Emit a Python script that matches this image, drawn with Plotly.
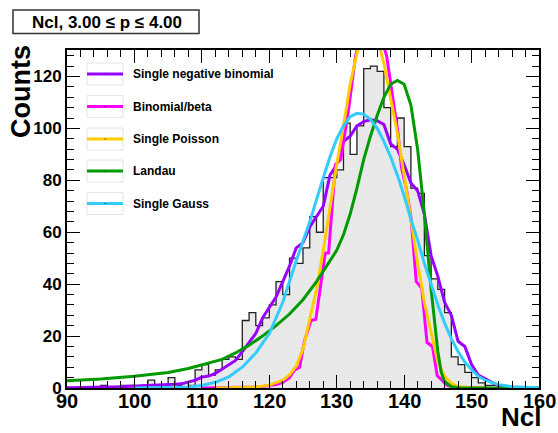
import plotly.graph_objects as go

# ---------------- data ----------------
bin_low = list(range(90, 160))          # lower edges of 1-unit bins
counts = [0, 0, 0, 0, 0, 1, 0, 0, 1, 1,
          0, 1, 3, 1, 1, 4, 1, 2, 1, 7,
          9, 5, 7, 11, 12, 11, 26, 29, 24, 27,
          32, 41, 36, 50, 48, 54, 66, 60, 81, 81,
          84, 102, 90, 101, 123, 124, 122, 108, 93, 104,
          93, 77, 75, 51, 42, 38, 29, 12, 9, 6,
          4, 2, 1, 1, 0, 0, 0, 0, 0, 0]

nb_x = list(range(90, 161))
nb_y = [0.1, 0.1, 0.15, 0.2, 0.25, 0.3, 0.35, 0.4, 0.5, 0.55,
        0.6, 0.7, 0.8, 0.9, 1.0, 1.2, 1.4, 1.6, 2.2, 3.0,
        4.2, 4.6, 5.6, 7.2, 8.7, 10.6, 14, 17.5, 21, 27,
        31, 35, 41, 47, 54, 56, 62, 66, 70, 82,
        86, 95, 97, 101, 102.6, 103.3, 103, 101.5, 94, 92,
        86, 79, 76, 67, 51, 43, 33, 28, 18, 16,
        9, 5, 3.5, 2, 0.8, 0.4, 0.2, 0.1, 0.05, 0.02, 0.01]

bb_x = [110, 112, 114, 116, 118, 119, 120, 121, 122, 123, 123.7, 124.5, 125.2, 126.2,
        126.9, 127.7, 128.3, 128.8, 129.8, 130.6, 131.3, 131.8, 132.8, 134, 135, 136,
        137.4, 138.1, 139.1, 139.6, 140.3, 141.0, 141.8, 142.6, 143.4, 144.2, 144.9,
        145.6, 146.4, 147.5, 149, 152]
bb_y = [0, 0.05, 0.1, 0.2, 0.4, 0.6, 0.9, 1.3, 2.2, 4.0, 6.8, 8.0, 18, 26,
        26.5, 42, 52, 52, 86, 88, 100, 108, 128, 140, 144, 140,
        128, 116, 98, 85, 77, 66, 41, 38.5, 17.5, 16, 4.8,
        3, 1, 0.3, 0.1, 0]

po_x = [112, 115, 118, 120, 122, 123, 124, 125, 126, 127, 128, 129, 130, 131, 132, 133,
        134, 135, 136, 137, 138, 139, 140, 141, 142, 143, 144, 145, 146, 147, 148, 149,
        150, 152]
po_y = [0, 0.1, 0.4, 1.1, 3, 5, 8.5, 15, 26, 38, 53, 70, 86, 101, 117, 129,
        137, 140, 135, 125, 112, 98, 82, 64, 48, 33, 21, 10, 4.5, 1.8, 0.6, 0.2,
        0.05, 0]

la_x = [90, 95, 100, 105, 108, 110, 113, 115, 117, 119, 121, 123, 125, 127, 129, 130,
        131, 132, 133, 134, 135, 136, 137, 138, 139, 140, 141, 142, 143, 144, 145,
        145.5, 146, 147, 148, 150, 160]
la_y = [2.8, 3.5, 4.5, 6, 7.5, 9, 11, 13.5, 16.5, 20, 24, 28.5, 34, 41, 49, 53,
        59, 67, 77, 88, 97, 105, 112, 117, 118.5, 117, 109, 92, 67, 38, 14,
        6, 2.5, 0.5, 0.1, 0, 0]

ga_x = [100, 105, 108, 110, 112, 114, 116, 118, 120, 122, 124, 126, 127, 128, 129, 130,
        131, 132, 133, 134, 135, 136, 137, 138, 139, 140, 141, 142, 143, 144, 145, 146,
        147, 148, 149, 150, 151, 152, 154, 156, 158, 160]
ga_y = [0, 0.1, 0.4, 1, 2.2, 4.3, 8, 13.5, 21, 33, 49, 64, 73, 81, 89, 96,
        101, 104.5, 105.8, 105.5, 103.5, 100, 95, 89, 82, 74, 65, 57, 48, 40, 32, 25,
        19, 14, 10, 7, 4.5, 3, 1.3, 0.5, 0.2, 0.05]

names = ["Single negative binomial", "Binomial/beta", "Single Poisson", "Landau", "Single Gauss"]
colors = ["#9900ff", "#ff00ff", "#ffcc00", "#009900", "#33ccff"]
curves_x = [nb_x, bb_x, po_x, la_x, ga_x]
curves_y = [nb_y, bb_y, po_y, la_y, ga_y]

x_ticks = [90, 100, 110, 120, 130, 140, 150, 160]
title_text = "Ncl, 3.00 \u2264 p \u2264 4.00"
x_title = "Ncl"
y_title = "Counts"

# ---------------- layout geometry ----------------
W, H = 558, 433
L, R, T, B = 67, 19, 50, 45
PW, PH = W - L - R, H - T - B


def px(x):
    return (x - L) / PW


def py(y):
    return (H - B - y) / PH


FONT = "Liberation Sans, Arial, Helvetica, sans-serif"

fig = go.Figure()

# histogram: filled step outline
hx = bin_low + [bin_low[-1] + 1]
hy = counts + [counts[-1]]
fig.add_trace(go.Scatter(
    x=hx, y=hy, mode="lines", line=dict(shape="hv", color="#222222", width=1.3),
    fill="tozeroy", fillcolor="rgba(0,0,0,0)",
    fillpattern=dict(shape=".", fgcolor="#555555", bgcolor="#f7f7f7", size=2, solidity=0.2),
    showlegend=False, hoverinfo="skip"))

for cx, cy, c, n in zip(curves_x, curves_y, colors, names):
    fig.add_trace(go.Scatter(x=cx, y=cy, mode="lines", line=dict(color=c, width=3),
                             name=n, showlegend=False))

shapes = []
annotations = []

# legend (ROOT style)
rows = [74, 106.5, 139, 171, 203.5]
for r, c, n in zip(rows, colors, names):
    shapes.append(dict(type="rect", xref="paper", yref="paper",
                       x0=px(87), x1=px(123), y0=py(r + 11), y1=py(r - 11),
                       line=dict(color="#e4e4e4", width=1), fillcolor="rgba(0,0,0,0)"))
    shapes.append(dict(type="line", xref="paper", yref="paper",
                       x0=px(87), x1=px(123), y0=py(r), y1=py(r),
                       line=dict(color=c, width=3)))
    shapes.append(dict(type="rect", xref="paper", yref="paper",
                       x0=px(104.5), x1=px(105.8), y0=py(r + 0.6), y1=py(r - 0.6),
                       line=dict(width=0), fillcolor="#333333"))
    annotations.append(dict(xref="paper", yref="paper", x=px(131), y=py(r),
                            xanchor="left", yanchor="middle", showarrow=False, text=n,
                            font=dict(family=FONT, size=12, color="black", weight="bold")))

# x tick labels (placed close to the axis, ROOT style)
for t in x_ticks:
    annotations.append(dict(xref="x", yref="paper", x=t, y=py(401),
                            xanchor="center", yanchor="middle", showarrow=False, text=str(t),
                            borderpad=0,
                            font=dict(family=FONT, size=20, color="black", weight="bold")))

# title box
shapes.append(dict(type="rect", xref="paper", yref="paper",
                   x0=px(13), x1=px(199), y0=py(33.5), y1=py(10),
                   line=dict(color="#333333", width=1.5), fillcolor="white"))
annotations.append(dict(xref="paper", yref="paper", x=px(107), y=py(22),
                        xanchor="center", yanchor="middle", showarrow=False, text=title_text,
                        font=dict(family=FONT, size=17, color="black", weight="bold")))

# axis titles
annotations.append(dict(xref="paper", yref="paper", x=px(21), y=py(92),
                        xanchor="center", yanchor="middle", showarrow=False, text=y_title,
                        textangle=-90,
                        font=dict(family=FONT, size=27, color="black", weight="bold")))
annotations.append(dict(xref="paper", yref="paper", x=px(542), y=py(433),
                        xanchor="right", yanchor="bottom", showarrow=False, text=x_title,
                        borderpad=0,
                        font=dict(family=FONT, size=26, color="black", weight="bold")))

axis_common = dict(
    showgrid=False, zeroline=False, showline=True, linecolor="black", linewidth=2,
    mirror="allticks", ticks="inside", ticklen=13, tickwidth=1.3, tickcolor="black",
)

fig.update_layout(
    width=W, height=H,
    margin=dict(l=L, r=R, t=T, b=B, pad=0),
    paper_bgcolor="white", plot_bgcolor="white",
    showlegend=False,
    shapes=shapes, annotations=annotations,
    xaxis=dict(range=[90, 160], tick0=90, dtick=10, showticklabels=False,
               minor=dict(dtick=2, ticklen=7, ticks="inside", tickcolor="black", tickwidth=1),
               **axis_common),
    yaxis=dict(range=[0, 130.2], tick0=0, dtick=20,
               minor=dict(dtick=4, ticklen=7, ticks="inside", tickcolor="black", tickwidth=1),
               tickfont=dict(family=FONT, size=17, color="black", weight="bold"),
               **axis_common),
)

fig.write_html("out.html")
